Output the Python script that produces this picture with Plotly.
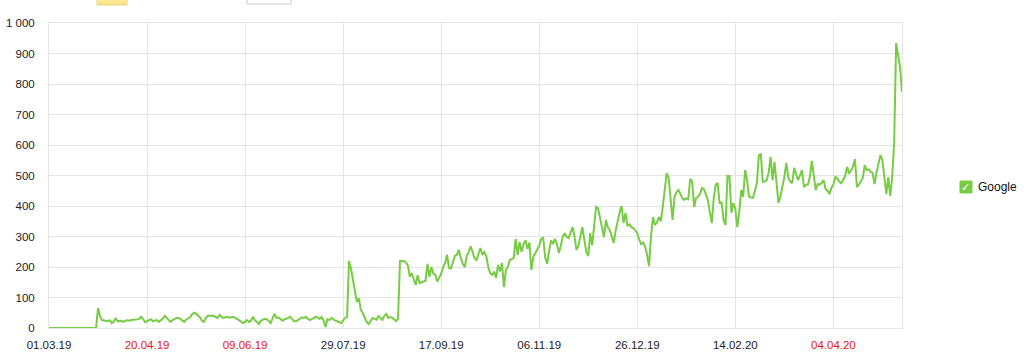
import pandas as pd
import plotly.graph_objects as go

start_date = "2019-03-01"
series_name = "Google"

# daily values (01.03.19 .. 09.05.20)
values = [
    # d0-24
    0, 0, 0, 0, 0, 0, 0, 0, 0, 0, 0, 0, 0, 0, 0, 0, 0, 0, 0, 0, 0, 0, 0, 0, 0,
    # d25-49
    65, 40, 26, 25, 24, 22, 25, 16, 20, 33, 22, 23, 24, 20, 24, 25, 24, 26, 27, 28, 30, 29, 37, 30, 19,
    # d50-74
    22, 27, 29, 22, 24, 26, 20, 25, 31, 40, 34, 28, 20, 26, 30, 33, 33, 30, 24, 20, 28, 32, 35, 45, 50,
    # d75-99
    47, 42, 35, 24, 20, 33, 40, 40, 40, 40, 36, 33, 43, 36, 33, 35, 37, 34, 35, 37, 33, 30, 25, 20, 16,
    # d100-124
    20, 26, 20, 24, 37, 25, 20, 13, 24, 28, 30, 28, 24, 16, 30, 46, 33, 34, 30, 24, 28, 30, 33, 37, 28,
    # d125-149
    22, 22, 26, 30, 35, 33, 37, 30, 26, 30, 32, 37, 35, 30, 36, 25, 3, 29, 26, 33, 27, 24, 22, 18, 16,
    # d150-174
    25, 33, 36, 220, 195, 160, 120, 85, 98, 60, 49, 35, 20, 13, 22, 33, 30, 27, 39, 32, 27, 40, 46, 33, 36,
    # d175-199
    34, 28, 23, 30, 220, 220, 220, 215, 205, 168, 180, 160, 141, 173, 147, 150, 152, 155, 210, 168, 200, 178, 175, 152, 165,
    # d200-224
    178, 200, 213, 240, 197, 195, 220, 237, 240, 256, 230, 210, 200, 235, 249, 268, 250, 228, 223, 245, 262, 240, 249, 235, 200,
    # d225-249
    180, 174, 185, 164, 207, 185, 213, 134, 190, 200, 223, 226, 229, 292, 240, 282, 250, 275, 288, 260, 280, 190, 233, 245, 256,
    # d250-274
    270, 292, 298, 233, 210, 250, 288, 275, 292, 275, 246, 270, 300, 311, 298, 295, 315, 331, 300, 256, 270, 300, 331, 290, 250,
    # d275-299
    236, 311, 272, 340, 397, 393, 360, 338, 298, 354, 330, 321, 300, 279, 320, 354, 380, 400, 344, 377, 334, 340, 330, 328, 320,
    # d300-324
    311, 290, 275, 280, 266, 240, 203, 300, 364, 338, 345, 364, 350, 397, 446, 508, 492, 430, 354, 430, 445, 452, 440, 425, 420,
    # d325-349
    425, 422, 489, 480, 397, 426, 430, 440, 459, 455, 440, 420, 380, 344, 426, 470, 475, 408, 413, 354, 338, 498, 498, 377, 410,
    # d350-374
    390, 331, 380, 452, 430, 518, 485, 430, 428, 426, 450, 475, 567, 570, 479, 480, 485, 510, 561, 485, 544, 462, 410, 430, 460,
    # d375-399
    495, 541, 495, 480, 475, 525, 505, 485, 500, 518, 462, 470, 470, 495, 548, 500, 452, 472, 470, 475, 485, 456, 450, 439, 460,
    # d400-424
    470, 495, 490, 480, 475, 485, 498, 528, 508, 515, 530, 554, 462, 470, 480, 492, 534, 518, 520, 512, 508, 472, 510, 541, 567,
    # d425-435
    551, 495, 439, 495, 433, 495, 607, 934, 900, 856, 774,
]

x_tick_dates = ["2019-03-01", "2019-04-20", "2019-06-09", "2019-07-29", "2019-09-17",
                "2019-11-06", "2019-12-26", "2020-02-14", "2020-04-04"]
x_tick_labels = ["01.03.19", "20.04.19", "09.06.19", "29.07.19", "17.09.19",
                 "06.11.19", "26.12.19", "14.02.20", "04.04.20"]
y_tick_vals = [0, 100, 200, 300, 400, 500, 600, 700, 800, 900, 1000]
y_tick_labels = ["0", "100", "200", "300", "400", "500", "600", "700", "800", "900", "1 000"]

dates = pd.date_range(start=start_date, periods=len(values), freq="D")

# weekend tick labels are red
tick_text = []
for d, lab in zip(x_tick_dates, x_tick_labels):
    if pd.Timestamp(d).weekday() >= 5:
        tick_text.append(f'<span style="color:#e8190f">{lab}</span>')
    else:
        tick_text.append(lab)

GREEN = "#78cc45"
GRID = "#e4e4e4"
FONT = "Liberation Sans, Arial, sans-serif"

fig = go.Figure()
fig.add_trace(go.Scatter(
    x=dates, y=values, mode="lines", name=series_name,
    line=dict(color=GREEN, width=2), showlegend=False,
))

W, H = 1024, 355
L, R, T, B = 49, 122, 23, 27
pw, ph = W - L - R, H - T - B

def px_x(px):
    return (px - L) / pw

def px_y(py):
    return (H - B - py) / ph

shapes = [
    # cut-off controls at the very top
    dict(type="rect", xref="paper", yref="paper",
         x0=px_x(97), x1=px_x(127), y0=px_y(5), y1=px_y(-6),
         fillcolor="#fce793", line=dict(color="#e9d27a", width=1), layer="above"),
    dict(type="rect", xref="paper", yref="paper",
         x0=px_x(247), x1=px_x(291), y0=px_y(4), y1=px_y(-6),
         fillcolor="#ffffff", line=dict(color="#cfcfcf", width=1), layer="above"),
    # legend checkbox
    dict(type="rect", xref="paper", yref="paper",
         x0=px_x(960), x1=px_x(972), y0=px_y(193), y1=px_y(181),
         fillcolor=GREEN, line=dict(color=GREEN, width=1), layer="above"),
]

annotations = [
    dict(xref="paper", yref="paper", x=px_x(966), y=px_y(187), text="<b>✓</b>",
         showarrow=False, font=dict(family="DejaVu Sans", size=11, color="white"),
         xanchor="center", yanchor="middle"),
    dict(xref="paper", yref="paper", x=px_x(976), y=px_y(187), text=series_name,
         showarrow=False, font=dict(family=FONT, size=12, color="#111"),
         xanchor="left", yanchor="middle"),
]

fig.update_layout(
    width=W, height=H,
    margin=dict(l=L, r=R, t=T, b=B, pad=0, autoexpand=False),
    paper_bgcolor="white", plot_bgcolor="white",
    font=dict(family=FONT, size=11.5, color="#222"),
    shapes=shapes, annotations=annotations,
    showlegend=False,
    xaxis=dict(
        type="date", automargin=False,
        range=[dates[0], dates[-1]],
        tickmode="array", tickvals=x_tick_dates, ticktext=tick_text,
        showgrid=True, gridcolor=GRID, gridwidth=1,
        showline=True, linecolor=GRID, linewidth=1, mirror=True,
        zeroline=False, ticks="", ticklabelstandoff=6,
        tickfont=dict(size=11.5, color="#222"),
    ),
    yaxis=dict(
        range=[0, 1000], automargin=False,
        tickmode="array", tickvals=y_tick_vals, ticktext=y_tick_labels,
        showgrid=True, gridcolor=GRID, gridwidth=1,
        showline=True, linecolor=GRID, linewidth=1, mirror=True,
        zeroline=False, ticks="", ticklabelstandoff=11,
        tickfont=dict(size=11.5, color="#222"),
    ),
)

fig.write_html("out.html")
